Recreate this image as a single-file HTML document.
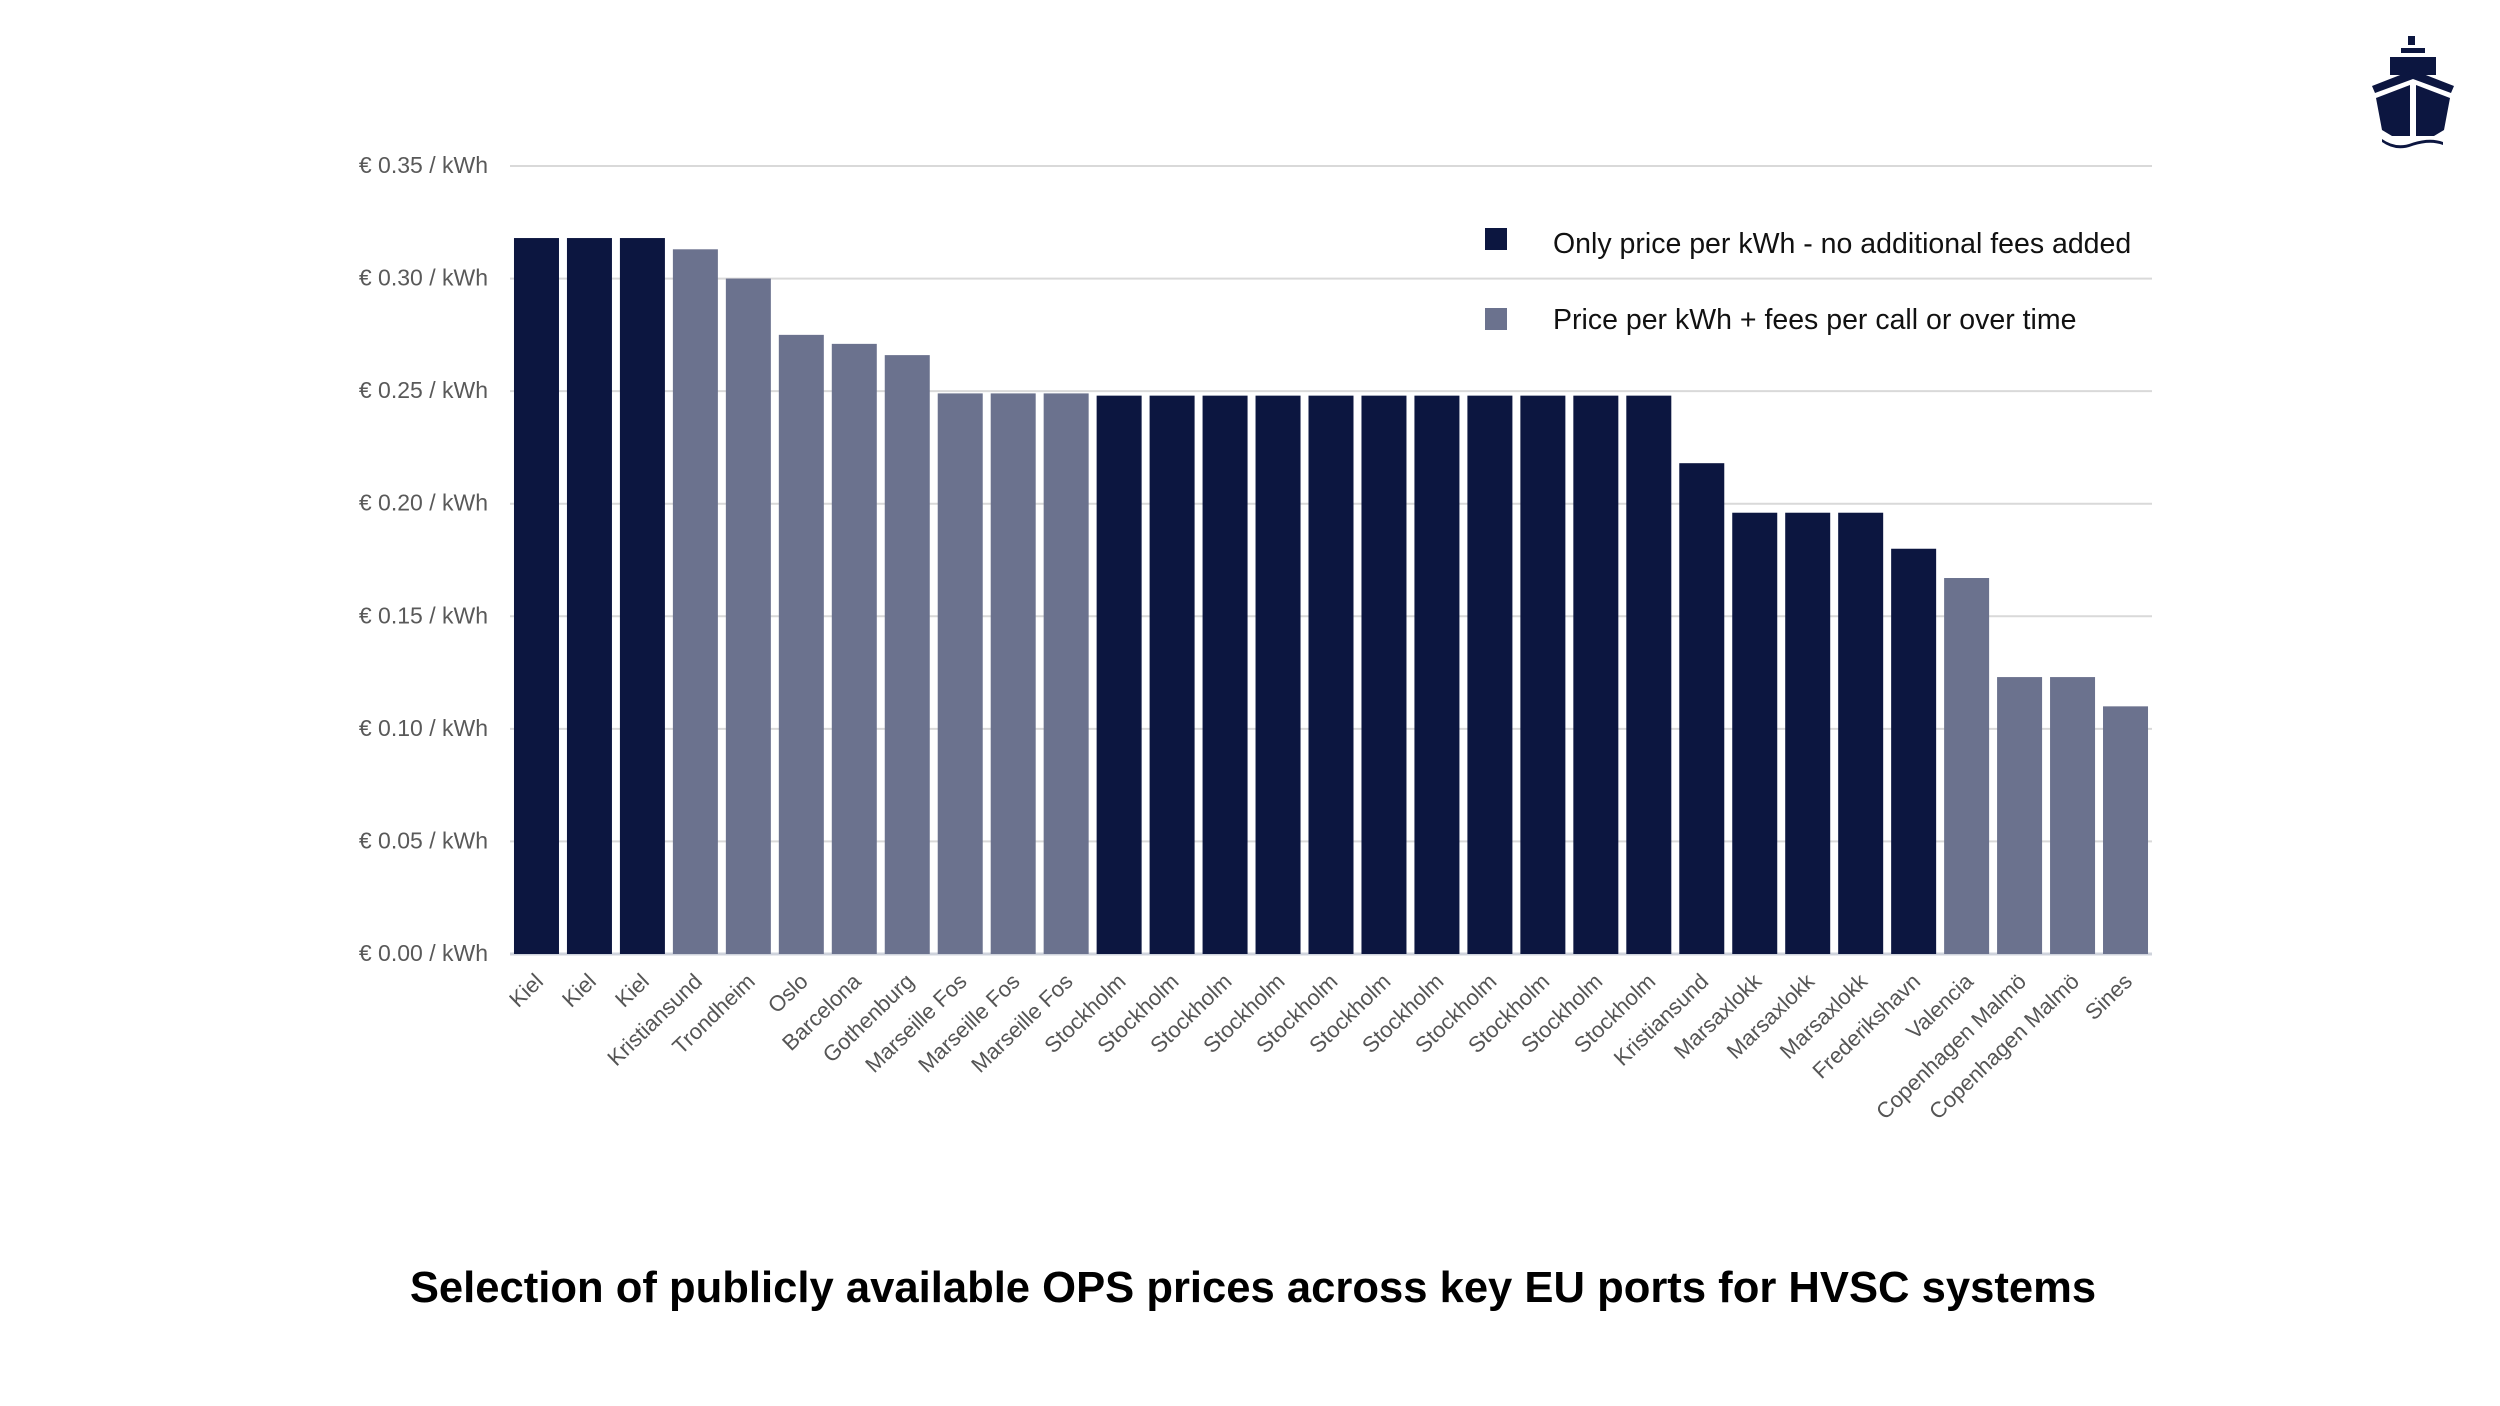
<!DOCTYPE html>
<html><head><meta charset="utf-8"><style>
html,body{margin:0;padding:0;background:#fff;}
body{width:2500px;height:1406px;overflow:hidden;position:relative;font-family:"Liberation Sans",sans-serif;}
</style></head><body>
<svg id="chart" width="2500" height="1406" viewBox="0 0 2500 1406" xmlns="http://www.w3.org/2000/svg" style="position:absolute;left:0;top:0">
<g id="grid"></g>
<g id="bars"></g>
<g id="ylabels" font-family="Liberation Sans, sans-serif" font-size="23" fill="#595959" text-anchor="end"></g>
<g id="xlabels" font-family="Liberation Sans, sans-serif" font-size="22" fill="#555" text-anchor="end"></g>
<g font-family="Liberation Sans, sans-serif" font-size="28.5" fill="#111">
<rect x="1485" y="228" width="22" height="22" fill="#0c1640"/>
<text x="1553" y="253">Only price per kWh - no additional fees added</text>
<rect x="1485" y="308" width="22" height="22" fill="#6b728e"/>
<text x="1553" y="329">Price per kWh + fees per call or over time</text>
</g>
<text x="1253" y="1302" text-anchor="middle" font-family="Liberation Sans, sans-serif" font-weight="bold" font-size="43.6" fill="#000">Selection of publicly available OPS prices across key EU ports for HVSC systems</text>
<g fill="#0c1640">
<rect x="2408" y="36" width="7" height="9"/>
<rect x="2401" y="48" width="24" height="5"/>
<rect x="2390" y="57" width="46" height="18"/>
<polygon points="2372,86 2413,70 2454,86 2451,93 2413,79 2375,93"/>
<polygon points="2376,98 2410,85 2410,136 2392,136 2382,130"/>
<polygon points="2416,85 2450,98 2444,130 2434,136 2416,136"/>
<path d="M2382,139 Q2396,149 2412,143 Q2430,137 2443,142 L2443,145 Q2430,140 2412,146 Q2396,152 2382,142 Z"/>
</g>
</svg>
<script>
const categories = ["Kiel","Kiel","Kiel","Kristiansund","Trondheim","Oslo","Barcelona","Gothenburg","Marseille Fos","Marseille Fos","Marseille Fos","Stockholm","Stockholm","Stockholm","Stockholm","Stockholm","Stockholm","Stockholm","Stockholm","Stockholm","Stockholm","Stockholm","Kristiansund","Marsaxlokk","Marsaxlokk","Marsaxlokk","Frederikshavn","Valencia","Copenhagen Malmö","Copenhagen Malmö","Sines"];
const prices = [0.318,0.318,0.318,0.313,0.300,0.275,0.271,0.266,0.249,0.249,0.249,0.248,0.248,0.248,0.248,0.248,0.248,0.248,0.248,0.248,0.248,0.248,0.218,0.196,0.196,0.196,0.180,0.167,0.123,0.123,0.110];
const withFees = [0,0,0,1,1,1,1,1,1,1,1,0,0,0,0,0,0,0,0,0,0,0,0,0,0,0,0,1,1,1,1];
const yTicks = [0,0.05,0.10,0.15,0.20,0.25,0.30,0.35];
const yTickLabels = ["€ 0.00 / kWh","€ 0.05 / kWh","€ 0.10 / kWh","€ 0.15 / kWh","€ 0.20 / kWh","€ 0.25 / kWh","€ 0.30 / kWh","€ 0.35 / kWh"];

const NS="http://www.w3.org/2000/svg";
const X0=510, X1=2152, Y0=954, Y1=166, YMAX=0.35;
const slot=(X1-X0)/categories.length, barW=45;
function yScale(v){return Y0-(v/YMAX)*(Y0-Y1);}
function xCenter(i){return X0+slot*(i+0.5);}
function mk(tag,attrs){const e=document.createElementNS(NS,tag);for(const k in attrs)e.setAttribute(k,attrs[k]);return e;}
const grid=document.getElementById('grid'),bars=document.getElementById('bars'),yl=document.getElementById('ylabels'),xl=document.getElementById('xlabels');
yTicks.forEach((t,i)=>{
  const y=yScale(t);
  const l=mk('line',{x1:X0,x2:X1,y1:y,y2:y,stroke:i===0?'#cfd3dc':'#d9d9d9','stroke-width':i===0?3:2});
  
  
  grid.appendChild(l);
  const tx=mk('text',{x:488,y:y+7});
  
  
  tx.textContent=yTickLabels[i];
  yl.appendChild(tx);
});
categories.forEach((c,i)=>{
  const cx=xCenter(i), y=yScale(prices[i]);
  const r=mk('rect',{x:cx-barW/2,y:y,width:barW,height:Y0-y,fill:withFees[i]?'#6b728e':'#0c1640'});
  
  
  bars.appendChild(r);
  const t=mk('text',{transform:'translate('+(cx+8)+',983) rotate(-44)'});
  
  
  t.textContent=c;
  xl.appendChild(t);
});
</script>
</body></html>
